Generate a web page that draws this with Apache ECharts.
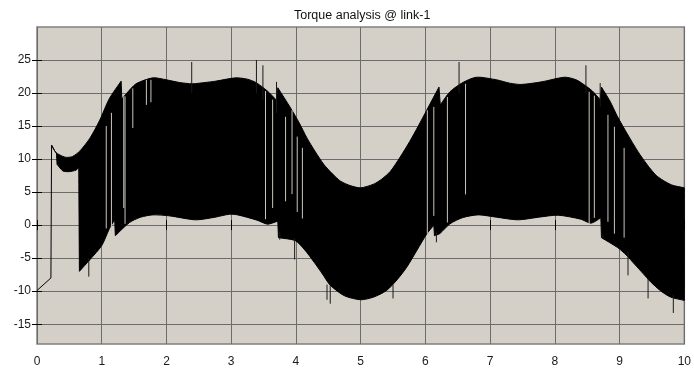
<!DOCTYPE html>
<html>
<head>
<meta charset="utf-8">
<script src="https://cdn.jsdelivr.net/npm/echarts@6/dist/echarts.min.js"></script>
<style>
html, body { margin: 0; background: #fff; }
#main { width: 694px; height: 371px; }
</style>
</head>
<body>
<div id="main"></div>
<script>
const yTicks = [-15, -10, -5, 0, 5, 10, 15, 20, 25]

// start-up transient before the oscillation begins
const startX = [0, 0.215, 0.225]
const startY = [-9.9, -8.0, 12.1]

// upper envelope of the oscillating torque
const upperX = [0.225, 0.27, 0.30, 0.40, 0.46, 0.55, 0.66, 0.82, 0.97, 1.12, 1.30, 1.31, 1.38, 1.53, 1.79, 2.0, 2.2, 2.4, 2.6, 2.76, 3.07, 3.25, 3.38, 3.56, 3.70, 3.72, 3.92, 4.05, 4.17, 4.30, 4.43, 4.56, 4.69, 4.85, 5.0, 5.2, 5.33, 5.46, 5.61, 5.76, 5.89, 6.02, 6.21, 6.23, 6.38, 6.58, 6.79, 7.1, 7.3, 7.48, 7.8, 8.15, 8.33, 8.46, 8.58, 8.70, 8.72, 8.85, 8.97, 9.12, 9.28, 9.43, 9.58, 9.8, 10]
const upperY = [12.1, 11.3, 10.9, 10.4, 10.25, 10.4, 11.2, 13.2, 15.9, 19.2, 21.8, 19.1, 19.9, 21.4, 22.3, 22.0, 21.6, 21.4, 21.6, 21.8, 22.3, 22.1, 21.6, 20.3, 18.9, 20.8, 17.7, 15.5, 13.2, 11.1, 9.2, 7.8, 6.65, 5.95, 5.65, 6.2, 7.0, 8.15, 10.3, 12.7, 15.0, 17.4, 20.9, 18.2, 20.2, 21.6, 22.4, 22.0, 21.5, 21.3, 21.7, 22.4, 22.0, 21.2, 20.3, 19.0, 20.9, 18.8, 16.4, 13.8, 11.2, 9.1, 7.4, 6.1, 5.65]

// lower envelope of the oscillating torque
const lowerX = [0.225, 0.27, 0.30, 0.31, 0.40, 0.50, 0.60, 0.645, 0.655, 0.82, 1.0, 1.12, 1.20, 1.21, 1.43, 1.6, 1.79, 2.05, 2.45, 2.75, 2.97, 3.1, 3.4, 3.56, 3.72, 3.73, 3.99, 4.14, 4.28, 4.41, 4.53, 4.75, 5.0, 5.2, 5.4, 5.56, 5.71, 5.87, 6.02, 6.13, 6.14, 6.22, 6.38, 6.58, 6.82, 7.1, 7.43, 7.75, 8.05, 8.4, 8.56, 8.71, 8.72, 8.97, 9.1, 9.23, 9.36, 9.48, 9.64, 9.79, 10]
const lowerY = [12.1, 11.3, 10.9, 9.2, 8.2, 8.1, 8.3, 8.7, -7.0, -5.2, -3.1, -0.5, 0.8, -1.6, 0.4, 1.2, 1.55, 1.4, 0.8, 1.2, 1.65, 1.55, 0.75, 0.15, 0.6, -1.9, -2.35, -3.8, -5.6, -7.4, -9.1, -10.7, -11.3, -10.9, -9.9, -8.3, -6.4, -3.8, -1.35, 0.0, -1.6, -1.3, 0.2, 1.15, 1.55, 1.2, 0.8, 1.2, 1.5, 0.9, 0.3, 1.1, -1.9, -3.4, -4.5, -5.9, -7.3, -8.6, -10.0, -10.9, -11.4]

// single samples poking out of the envelope: [x, from, to]
const spikes = [
	[0.80, -5, -7.8], [2.39, 20, 24.7], [3.39, 20, 25.0], [3.49, 19, 24.2], [3.70, 17, 21.7],
	[3.75, -1, -2.2], [3.98, -2, -5.2], [4.48, -9, -11.3], [4.53, -9, -11.9], [5.50, -9, -11.1],
	[6.17, -1, -2.6], [6.52, 20, 24.7], [8.48, 20, 24.2], [8.70, 18, 21.5], [8.74, -1.5, -2.1],
	[9.13, -4, -7.6], [9.44, -8, -11.1], [9.83, -10.5, -13.3]
]

// light lines where the samples don't fill the envelope: [x, from, to]
const gaps = [
	[1.07, 15, -0.5], [1.15, 17, -1.0], [1.34, 19.5, 2.6], [1.36, 19.5, 0.2], [1.48, 20.7, 14.7],
	[1.69, 22, 18.2], [1.76, 22, 18.6], [3.53, 20.3, 0.9], [3.64, 19, 2.6], [3.84, 16.4, 3.6],
	[3.94, 17.4, 4.7], [4.02, 13.4, 2], [4.10, 11.7, 1], [6.03, 17.4, -1.3], [6.13, 17.9, 1.4],
	[6.34, 19.4, 0.4], [6.62, 21.4, 4.65], [8.53, 20.2, 0.2], [8.61, 19.6, 1.1], [8.82, 16.7, 0.5],
	[8.92, 14.9, -1.3], [9.07, 11.7, -1.9]
]

const chart = echarts.init(document.getElementById('main'))

const bgColor = '#d4d0c8'
const gridColor = '#6c6c6c'
const labelStyle = {
	color: '#1a1a1a',
	fontSize: 12,
	fontFamily: 'Liberation Sans'
}

function vline(color) {
	return function (params, api) {
		const a = api.coord([api.value(0), api.value(1)])
		const b = api.coord([api.value(0), api.value(2)])
		return {
			type: 'line',
			shape: { x1: a[0], y1: a[1], x2: b[0], y2: b[1] },
			style: { stroke: color, lineWidth: 1 }
		}
	}
}

// closed outline of the band; points next to a near-vertical jump are doubled
// so the smoothing keeps those corners sharp
function bandOutline(api) {
	const ring = []
	upperX.forEach((x, i) => ring.push(api.coord([x, upperY[i]])))
	for (let i = lowerX.length - 1; i >= 0; i--) {
		ring.push(api.coord([lowerX[i], lowerY[i]]))
	}
	const n = ring.length
	const pts = []
	for (let i = 0; i < n; i++) {
		const p = ring[i]
		const prev = ring[(i - 1 + n) % n]
		const next = ring[(i + 1) % n]
		pts.push(p)
		if (Math.abs(p[0] - prev[0]) < 3 || Math.abs(next[0] - p[0]) < 3) {
			pts.push(p.slice())
		}
	}
	return pts
}

const option = {
	animation: false,
	backgroundColor: '#fff',
	title: {
		text: 'Torque analysis @ link-1',
		left: 294,
		top: 9,
		padding: 0,
		textStyle: {
			color: '#111',
			fontSize: 12.5,
			fontWeight: 'normal',
			fontFamily: 'Liberation Sans'
		}
	},
	grid: {
		left: 37,
		right: 8,
		top: 27,
		bottom: 27,
		show: true,
		backgroundColor: bgColor,
		borderColor: '#808080',
		borderWidth: 1.5
	},
	xAxis: [
		{
			type: 'value',
			min: 0,
			max: 10,
			interval: 1,
			position: 'bottom',
			axisLine: { show: false },
			axisTick: { inside: true, length: 5, lineStyle: { color: '#000' } },
			axisLabel: Object.assign({ margin: 12 }, labelStyle),
			splitLine: { show: true, lineStyle: { color: gridColor, width: 1 } }
		},
		{
			type: 'value',
			min: 0,
			max: 10,
			interval: 1,
			position: 'top',
			axisLine: { show: false },
			axisTick: { inside: true, length: 5, lineStyle: { color: '#000' } },
			axisLabel: { show: false },
			splitLine: { show: false }
		}
	],
	yAxis: [
		{
			type: 'value',
			min: -18,
			max: 30,
			position: 'left',
			axisLine: { show: false },
			axisTick: { inside: true, length: 5, customValues: yTicks, lineStyle: { color: '#000' } },
			axisLabel: Object.assign({ margin: 6, customValues: yTicks }, labelStyle),
			splitLine: { show: true, lineStyle: { color: gridColor, width: 1 } }
		},
		{
			type: 'value',
			min: -18,
			max: 30,
			position: 'right',
			axisLine: { show: false },
			axisTick: { inside: true, length: 5, customValues: yTicks, lineStyle: { color: '#000' } },
			axisLabel: { show: false },
			splitLine: { show: false }
		}
	],
	series: [
		{
			type: 'custom',
			name: 'envelope',
			silent: true,
			z: 3,
			data: [[0, 0]],
			renderItem: function (params, api) {
				return {
					type: 'polygon',
					shape: { points: bandOutline(api), smooth: 0.25 },
					style: { fill: '#000', stroke: '#000', lineWidth: 1 }
				}
			}
		},
		{
			type: 'line',
			name: 'start',
			silent: true,
			z: 3,
			symbol: 'none',
			lineStyle: { color: '#000', width: 1 },
			data: startX.map((x, i) => [x, startY[i]])
		},
		{
			type: 'custom',
			name: 'gaps',
			silent: true,
			z: 4,
			renderItem: vline('#c9c5bd'),
			data: gaps
		},
		{
			type: 'custom',
			name: 'spikes',
			silent: true,
			z: 5,
			renderItem: vline('#1a1a1a'),
			data: spikes
		}
	]
}

chart.setOption(option)
</script>
</body>
</html>
